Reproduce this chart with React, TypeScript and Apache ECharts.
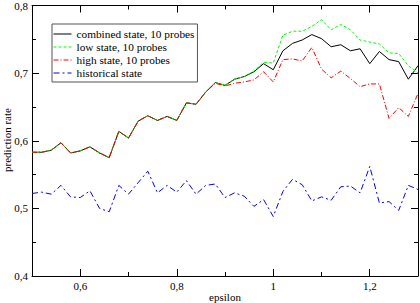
import React, { useEffect, useRef } from "react";
import * as echarts from "echarts";

const epsilon = [
  0.5, 0.52, 0.54, 0.56, 0.58, 0.6, 0.62, 0.64, 0.66, 0.68, 0.7, 0.72, 0.74, 0.76, 0.78, 0.8, 0.82, 0.84, 0.86, 0.88,
  0.9, 0.92, 0.94, 0.96, 0.98, 1.0, 1.02, 1.04, 1.06, 1.08, 1.1, 1.12, 1.14, 1.16, 1.18, 1.2, 1.22, 1.24, 1.26, 1.28, 1.3,
];

const combined = [
  0.583, 0.583, 0.586, 0.597, 0.582, 0.585, 0.591, 0.582, 0.575, 0.614, 0.604, 0.629, 0.637, 0.63, 0.636, 0.63, 0.656,
  0.654, 0.672, 0.686, 0.682, 0.691, 0.695, 0.702, 0.714, 0.705, 0.733, 0.744, 0.749, 0.757, 0.751, 0.739, 0.742, 0.733,
  0.736, 0.714, 0.732, 0.72, 0.717, 0.691, 0.711,
];

const lowState = [
  0.583, 0.583, 0.586, 0.597, 0.582, 0.585, 0.591, 0.582, 0.575, 0.614, 0.604, 0.629, 0.637, 0.63, 0.636, 0.63, 0.656,
  0.654, 0.672, 0.686, 0.682, 0.691, 0.695, 0.703, 0.716, 0.715, 0.756, 0.762, 0.762, 0.769, 0.779, 0.764, 0.772, 0.764,
  0.749, 0.746, 0.743, 0.73, 0.729, 0.711, 0.7,
];

const highState = [
  0.583, 0.583, 0.586, 0.597, 0.582, 0.585, 0.591, 0.582, 0.575, 0.614, 0.604, 0.629, 0.637, 0.63, 0.636, 0.63, 0.656,
  0.654, 0.672, 0.685, 0.681, 0.685, 0.687, 0.69, 0.702, 0.687, 0.72, 0.721, 0.718, 0.738, 0.706, 0.693, 0.703, 0.692,
  0.68, 0.684, 0.684, 0.633, 0.649, 0.636, 0.67,
];

const historical = [
  0.522, 0.524, 0.521, 0.534, 0.517, 0.516, 0.526, 0.5, 0.495, 0.534, 0.521, 0.538, 0.555, 0.523, 0.534, 0.524, 0.541,
  0.521, 0.534, 0.536, 0.516, 0.523, 0.518, 0.503, 0.513, 0.488, 0.525, 0.543, 0.535, 0.511, 0.517, 0.512, 0.532, 0.533,
  0.523, 0.562, 0.508, 0.51, 0.497, 0.534, 0.528,
];

const xMajor = [0.6, 0.8, 1.0, 1.2];
const xMinor = [0.7, 0.9, 1.1];
const yMajor = [0.4, 0.5, 0.6, 0.7, 0.8];
const yMinor = [0.45, 0.55, 0.65, 0.75];

const FONT = "Liberation Serif";
const fmt = (v: number) => String(Math.round(v * 100) / 100).replace(".", ",");

export default function App() {
  const ref = useRef<HTMLDivElement>(null);
  useEffect(() => {
    if (!ref.current) return;
    const chart = echarts.init(ref.current, undefined, { renderer: "svg" });
    const zip = (ys: number[]) => epsilon.map((x, i) => [x, ys[i]]);
    const baseX = { type: "value" as const, min: 0.5, max: 1.3, splitLine: { show: false } };
    const baseY = { type: "value" as const, min: 0.4, max: 0.8, splitLine: { show: false } };
    const hidden = { show: false };
    const tick = (vals: number[], len: number) => ({
      show: true,
      inside: true,
      length: len,
      customValues: vals,
      lineStyle: { color: "#000", width: 1 },
    });
    chart.setOption({
      animation: false,
      backgroundColor: "#fff",
      textStyle: { fontFamily: FONT },
      grid: { left: 32, right: 2, top: 5, bottom: 27, containLabel: false },
      graphic: [
        {
          type: "text",
          x: 225,
          y: 297,
          style: {
            text: "epsilon",
            fontFamily: FONT,
            fontSize: 11,
            fill: "#000",
            align: "center",
            verticalAlign: "middle",
          },
        },
        {
          type: "text",
          x: 7,
          y: 140,
          rotation: Math.PI / 2,
          style: {
            text: "prediction rate",
            fontFamily: FONT,
            fontSize: 11,
            fill: "#000",
            align: "center",
            verticalAlign: "middle",
          },
        },
      ],
      legend: {
        orient: "vertical",
        left: 52,
        top: 24,
        padding: [4, 3, 3, 1],
        itemGap: 1,
        itemWidth: 18,
        itemHeight: 12,
        itemTextGap: 8,
        borderColor: "#555",
        borderWidth: 1,
        borderRadius: 0,
        backgroundColor: "#fff",
        itemStyle: { opacity: 0 },
        lineStyle: { width: 1 },
        textStyle: { fontFamily: FONT, fontSize: 11.3, color: "#000", lineHeight: 12 },
        data: ["combined state, 10 probes", "low state, 10 probes", "high state, 10 probes", "historical state"],
      },
      xAxis: [
        {
          ...baseX,
          position: "bottom",
          axisLine: { show: true, lineStyle: { color: "#000", width: 1 } },
          axisTick: tick(xMajor, 7),
          axisLabel: { customValues: xMajor, formatter: fmt, fontFamily: FONT, fontSize: 11, color: "#000", margin: 4 },
        },
        { ...baseX, position: "bottom", axisLine: hidden, axisLabel: hidden, axisTick: tick(xMinor, 4) },
        {
          ...baseX,
          position: "top",
          axisLine: { show: true, lineStyle: { color: "#000", width: 1 } },
          axisLabel: hidden,
          axisTick: tick(xMajor, 7),
        },
        { ...baseX, position: "top", axisLine: hidden, axisLabel: hidden, axisTick: tick(xMinor, 4) },
      ],
      yAxis: [
        {
          ...baseY,
          position: "left",
          axisLine: { show: true, lineStyle: { color: "#000", width: 1 } },
          axisTick: tick(yMajor, 7),
          axisLabel: { customValues: yMajor, formatter: fmt, fontFamily: FONT, fontSize: 11, color: "#000", margin: 4 },
        },
        { ...baseY, position: "left", axisLine: hidden, axisLabel: hidden, axisTick: tick(yMinor, 4) },
        {
          ...baseY,
          position: "right",
          axisLine: { show: true, lineStyle: { color: "#000", width: 1 } },
          axisLabel: hidden,
          axisTick: tick(yMajor, 7),
        },
        { ...baseY, position: "right", axisLine: hidden, axisLabel: hidden, axisTick: tick(yMinor, 4) },
      ],
      series: [
        {
          name: "combined state, 10 probes",
          type: "line",
          data: zip(combined),
          symbol: "none",
          z: 1,
          color: "#000",
          lineStyle: { color: "#000", width: 1 },
        },
        {
          name: "low state, 10 probes",
          type: "line",
          data: zip(lowState),
          symbol: "none",
          z: 2,
          color: "#00ff00",
          lineStyle: { color: "#00ff00", width: 1, type: [3, 2] },
        },
        {
          name: "high state, 10 probes",
          type: "line",
          data: zip(highState),
          symbol: "none",
          z: 3,
          color: "#ff0000",
          lineStyle: { color: "#ff0000", width: 1, type: [5, 2, 1, 2] },
        },
        {
          name: "historical state",
          type: "line",
          data: zip(historical),
          symbol: "none",
          z: 2,
          color: "#0000ff",
          lineStyle: { color: "#0000ff", width: 1, type: [6, 3, 2, 3] },
        },
      ],
    });
    return () => chart.dispose();
  }, []);
  return <div ref={ref} style={{ width: 420, height: 303, position: "absolute", left: 0, top: 0 }} />;
}
